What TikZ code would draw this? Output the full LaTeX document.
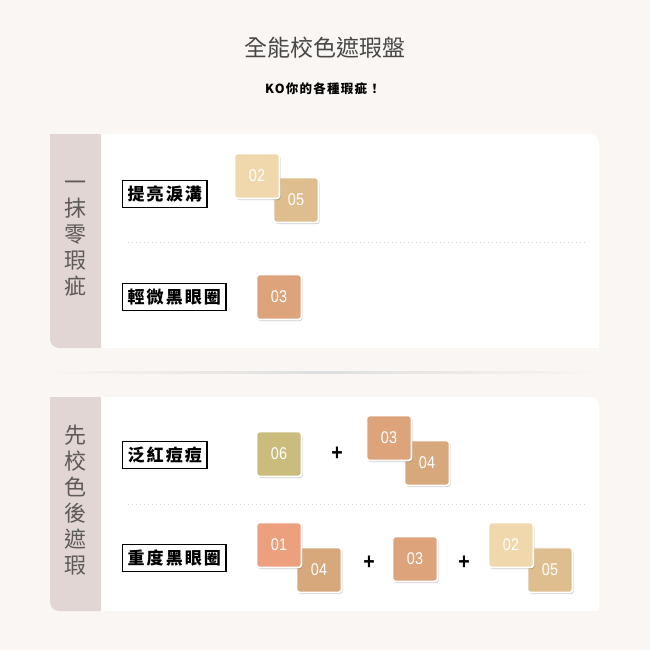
\documentclass[tikz,border=0pt]{standalone}
\usepackage{fontspec}
\usetikzlibrary{shadows}
\newfontfamily\cjk{Noto Sans CJK TC}
\newfontfamily\cjksp[LetterSpace=12]{Noto Sans CJK TC}
\newfontfamily\cjksub[LetterSpace=10]{Noto Sans CJK TC}
\newfontfamily\numfont[FakeStretch=0.85]{Liberation Sans}
\definecolor{bg}{HTML}{F9F6F3}
\definecolor{tab}{HTML}{E1D6D3}
\definecolor{tabtxt}{HTML}{5E5A59}
\definecolor{dots}{HTML}{D2D2D2}
\definecolor{s01}{HTML}{ECA07E}
\definecolor{s02}{HTML}{F0D8AC}
\definecolor{s03}{HTML}{DDA37B}
\definecolor{s04}{HTML}{D8A87D}
\definecolor{s05}{HTML}{DEBE8E}
\definecolor{s06}{HTML}{C9BC7D}
\begin{document}
\begin{tikzpicture}[x=1pt,y=-1pt]
		\tikzset{
			chip/.style={minimum size=45pt, rounded corners=3pt, draw=white, line width=1.8pt,
				text=white, font=\numfont\fontsize{17}{17}\selectfont,
				drop shadow={shadow xshift=1.2pt, shadow yshift=-1.5pt, fill=black, opacity=0.2}},
			tag/.style={draw=black, line width=1.4pt, fill=white, anchor=west, minimum height=27pt,
				inner xsep=5pt, inner ysep=0pt, font=\cjksp\bfseries\fontsize{17}{17}\selectfont},
			plus/.style={font=\numfont\bfseries\fontsize{23}{23}\selectfont},
			side/.style={align=center, text=tabtxt, font=\cjk\fontsize{22}{26}\selectfont},
			sep/.style={dots, line width=1pt, dash pattern=on 1pt off 3pt}
		}
		\def\r{9}
		\useasboundingbox (0,0) rectangle (650,650);
		\fill[bg] (0,0) rectangle (650,650);
		% title
		\node[text=black!72, font=\cjk\fontsize{23}{23}\selectfont] (title) at (325,48) {全能校色遮瑕盤};
		\node[font=\cjksub\bfseries\fontsize{12.5}{12.5}\selectfont] (sub) at (323,89) {KO你的各種瑕疵！};
		% card one
		\fill[white] (50,134) -- (599-\r,134) arc[start angle=-90, end angle=0, radius=\r] -- (599,348)
			-- (50+\r,348) arc[start angle=90, end angle=180, radius=\r] -- cycle;
		\fill[tab] (50,134) -- (101,134) -- (101,348) -- (50+\r,348) arc[start angle=90, end angle=180, radius=\r] -- cycle;
		\node[side] (sideA) at (75,239) {一\\抹\\零\\瑕\\疵};
		\draw[sep] (128,242) -- (588,242);
		\node[tag] (tear) at (122,194) {提亮淚溝};
		\node[chip, fill=s05] (a05) at (296,200) {05};
		\node[chip, fill=s02] (a02) at (257,176) {02};
		\node[tag] (dark) at (122,297) {輕微黑眼圈};
		\node[chip, fill=s03] (a03) at (279,297) {03};
		% soft divider
		\shade[left color=bg, right color=bg, middle color=black!13] (42,371) rectangle (600,373);
		% card two
		\fill[white] (50,397) -- (599-\r,397) arc[start angle=-90, end angle=0, radius=\r] -- (599,611)
			-- (50+\r,611) arc[start angle=90, end angle=180, radius=\r] -- cycle;
		\fill[tab] (50,397) -- (101,397) -- (101,611) -- (50+\r,611) arc[start angle=90, end angle=180, radius=\r] -- cycle;
		\node[side] (sideB) at (75,500) {先\\校\\色\\後\\遮\\瑕};
		\draw[sep] (128,504) -- (588,504);
		\node[tag] (red) at (122,455) {泛紅痘痘};
		\node[chip, fill=s06] (b06) at (279,454) {06};
		\node[plus] (p1) at (337,454) {+};
		\node[chip, fill=s04] (b04) at (427,463) {04};
		\node[chip, fill=s03] (b03) at (389,438) {03};
		\node[tag] (heavy) at (122,558) {重度黑眼圈};
		\node[chip, fill=s04] (c04) at (319,570) {04};
		\node[chip, fill=s01] (c01) at (279,545) {01};
		\node[plus] (p2) at (369,563) {+};
		\node[chip, fill=s03] (c03) at (415,559) {03};
		\node[plus] (p3) at (464,563) {+};
		\node[chip, fill=s05] (c05) at (550,570) {05};
		\node[chip, fill=s02] (c02) at (511,545) {02};
	\end{tikzpicture}
\end{document}
